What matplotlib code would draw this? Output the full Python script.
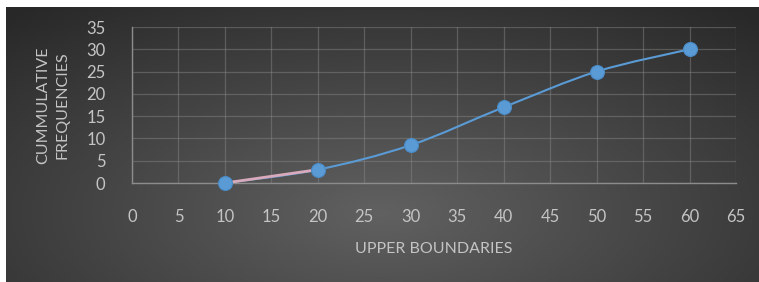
import numpy as np
import matplotlib
matplotlib.use("Agg")
import matplotlib.pyplot as plt
from matplotlib.path import Path
from matplotlib.patches import PathPatch

# data
upper_bounds = [10, 20, 30, 40, 50, 60]
cum_freq = [0, 3, 8.5, 17, 25, 30]
first_seg_x = [10, 20]
first_seg_y = [0, 3]
x_ticks = list(range(0, 70, 5))
y_ticks = list(range(0, 40, 5))

text_col = "#c4c4c4"
blue = "#5b9bd5"
plt.rcParams["font.family"] = ["Lato", "DejaVu Sans"]

fig = plt.figure(figsize=(7.59, 2.82), dpi=100, facecolor="white")

# dark radial gradient panel behind the chart
bg = fig.add_axes([6 / 759, 0, 753 / 759, 275 / 282])
gx, gy = np.meshgrid(np.linspace(0, 1, 400), np.linspace(0, 1, 150))
r = np.sqrt(((gx - 0.50) / 0.75) ** 2 + ((gy - 0.75) / 0.95) ** 2)
r = np.clip(r, 0, 1)
shade = 0.38 - 0.22 * r
bg.imshow(np.dstack([shade, shade, shade]), aspect="auto", extent=[0, 1, 0, 1],
          origin="upper")
bg.set_axis_off()

ax = fig.add_axes([132 / 759, 99 / 282, 604 / 759, 156 / 282])
ax.patch.set_alpha(0)
ax.set_xlim(0, 65)
ax.set_ylim(0, 35)
ax.set_xticks(x_ticks)
ax.set_yticks(y_ticks)
ax.grid(True, color="#8a8a8a", alpha=0.45, linewidth=0.9)
ax.set_axisbelow(True)
for s in ["top", "right"]:
    ax.spines[s].set_visible(False)
for s in ["left", "bottom"]:
    ax.spines[s].set_color("#8c8c8c")
    ax.spines[s].set_linewidth(1.0)
ax.tick_params(colors=text_col, labelsize=12, length=0)
ax.tick_params(axis="x", pad=19)
ax.tick_params(axis="y", pad=19)

# smoothed line (bezier through the points, like Excel's smoothing)
px = np.array(upper_bounds, dtype=float)
py = np.array(cum_freq, dtype=float)
verts = [(px[0], py[0])]
codes = [Path.MOVETO]
n = len(px)
for i in range(n - 1):
    p0 = np.array([px[max(i - 1, 0)], py[max(i - 1, 0)]])
    p1 = np.array([px[i], py[i]])
    p2 = np.array([px[i + 1], py[i + 1]])
    p3 = np.array([px[min(i + 2, n - 1)], py[min(i + 2, n - 1)]])
    c1 = p1 + (p2 - p0) / 6
    c2 = p2 - (p3 - p1) / 6
    verts += [tuple(c1), tuple(c2), tuple(p2)]
    codes += [Path.CURVE4] * 3
ax.add_patch(PathPatch(Path(verts, codes), facecolor="none", edgecolor=blue,
                       linewidth=1.5, zorder=3))

ax.plot(first_seg_x, first_seg_y, color="#d8aabb", linewidth=2.0, zorder=4,
        solid_capstyle="butt")
ax.plot(upper_bounds, cum_freq, linestyle="none", marker="o", markersize=10,
        markerfacecolor=blue, markeredgecolor="#4a8cc8", markeredgewidth=0.8,
        zorder=5, clip_on=False)

ax.set_xlabel("UPPER BOUNDARIES", color=text_col, fontsize=11.5, labelpad=12)
ax.set_ylabel("CUMMULATIVE\nFREQUENCIES", color=text_col, fontsize=11.5,
              labelpad=12, linespacing=1.5)

fig.savefig("out.png", dpi=100, facecolor="white")
